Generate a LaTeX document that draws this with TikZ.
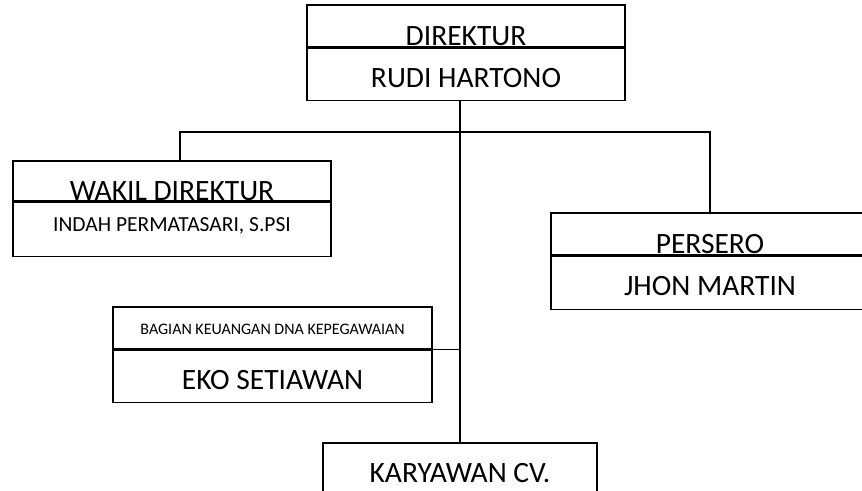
\documentclass[tikz,border=0pt]{standalone}
\usepackage{fontspec}
\setmainfont{Carlito}
\usetikzlibrary{positioning}

\begin{document}
\begin{tikzpicture}[x=1pt,y=-1pt,
        rowbox/.style={rectangle,draw,line width=1.2pt,inner sep=0pt,
                    minimum width=318pt,text depth=0pt},
        headbox/.style={rowbox,minimum height=42pt,text height=38.5pt,
                     font=\fontsize{29.5}{34}\selectfont},
        namebox/.style={rowbox,minimum height=52pt,text height=26pt,
                     font=\fontsize{29.5}{34}\selectfont},
        link/.style={draw,line width=1.2pt}]
  \useasboundingbox (0,0) rectangle (862,490);
  \clip (0,0) rectangle (862,490);
  % direktur
  \node[headbox] (dirT) at (466,26) {DIREKTUR};
  \node[namebox,below=0pt of dirT] (dirN) {RUDI HARTONO};
  % wakil
  \node[headbox,minimum height=40pt,text height=39.5pt] (wakT) at (172,181) {WAKIL DIREKTUR};
  \node[namebox,below=0pt of wakT,minimum height=54pt,text height=4pt,
        font=\fontsize{21.5}{25}\selectfont] (wakN) {INDAH PERMATASARI, S.PSI};
  % persero
  \node[headbox] (perT) at (710,234) {PERSERO};
  \node[namebox,below=0pt of perT,minimum height=53pt] (perN) {JHON MARTIN};
  % keuangan
  \node[headbox,minimum width=319pt,text height=12pt,
        font=\fontsize{16}{19}\selectfont] (bagT) at (272.5,328) {BAGIAN KEUANGAN DNA KEPEGAWAIAN};
  \node[namebox,below=0pt of bagT,minimum width=319pt] (bagN) {EKO SETIAWAN};
  % karyawan
  \node[namebox,minimum width=274pt,minimum height=58pt,text height=20pt] (karT) at (460,472) {KARYAWAN CV.};
  % garis
  \coordinate (hub) at (460,132);
  \draw[link] (dirN.south -| karT.north) -- (karT.north);
  \draw[link] ([xshift=8pt]wakT.north) |- (hub) -| (perT.north);
  \draw[link] (bagT.south east) -- (bagT.south east -| karT.north);
\end{tikzpicture}
\end{document}
